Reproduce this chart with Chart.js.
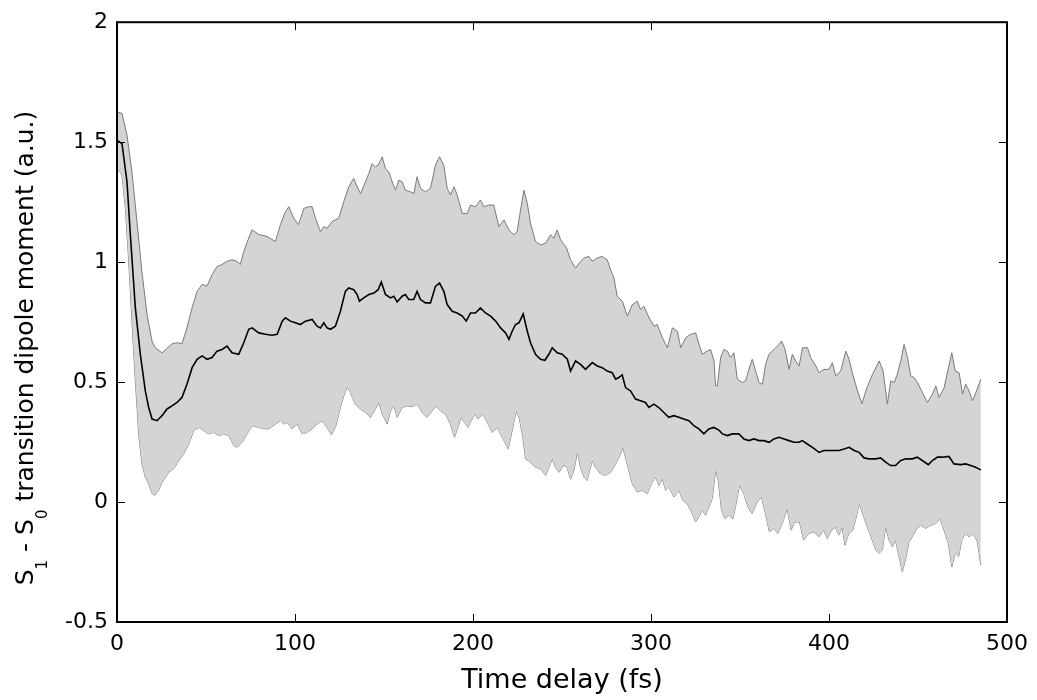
<!DOCTYPE html>
<html>
<head>
<meta charset="utf-8">
<title>S1 - S0 transition dipole moment</title>
<script src="https://cdn.jsdelivr.net/npm/chart.js@4.4.1/dist/chart.umd.min.js"></script>
<style>
  html, body { margin: 0; padding: 0; background: #fff; }
  #wrap { width: 1037px; height: 700px; }
</style>
</head>
<body>
<div id="wrap"><canvas id="chartTDM"></canvas></div>
<script>
// time axis (fs) and values (a.u.)
const meanT = [0, 2.8, 5.6, 7.5, 10.3, 13.1, 15.9, 17.8, 19.7, 22.5, 25.3, 28.1, 30.9, 33.7, 36.5, 39.3, 42.2, 45, 47.8, 50.6, 53.4, 56.2, 59, 61.8, 64.6, 68.4, 71.2, 74, 75.9, 79.6, 83.4, 87.1, 90, 92.8, 94.6, 97.4, 100.2, 103, 105.9, 109.6, 112.4, 114.3, 116.2, 118, 119.9, 122.7, 125.5, 128.3, 130.2, 133, 134.9, 136.2, 138.6, 141.5, 144.3, 146.7, 148.5, 150.8, 153.6, 155.5, 157.4, 160.2, 162, 163.9, 166.7, 168.6, 170.5, 173.3, 176.1, 178.9, 181.2, 183.6, 185.5, 188.3, 191.1, 194, 196.2, 198.6, 201.4, 204.2, 207, 209.9, 212.7, 215.5, 218.3, 220.2, 222, 223.9, 225.8, 228.2, 230.5, 232.3, 235.1, 237.9, 240.4, 242.6, 244.5, 247.3, 250.1, 253, 254.8, 257.6, 260.4, 263.2, 267, 269.8, 272.6, 275.4, 278.2, 280.1, 281.9, 283.8, 285.7, 288.5, 291.3, 294.1, 296.9, 298.8, 301.6, 304.4, 307.2, 310, 312.8, 315.6, 318.4, 321.3, 324.1, 326.9, 329.7, 332.5, 335.3, 338.1, 340.1, 342.9, 345.7, 349.4, 352.2, 355, 357.8, 360.7, 363.5, 366.3, 369.1, 371.9, 374.7, 377.5, 380.3, 383.2, 385, 387.8, 390.7, 394.4, 397.2, 400, 402.8, 405.6, 408.5, 411.3, 414.1, 416.9, 419.7, 422.5, 426.3, 429, 431.8, 434.6, 437.4, 440.3, 443.1, 446.8, 449.6, 452.4, 455.8, 458.1, 460.9, 463.7, 467.4, 470.2, 474, 476.8, 479.6, 482.4, 485.3];
const meanV = [1.508, 1.494, 1.335, 1.114, 0.81, 0.616, 0.463, 0.394, 0.346, 0.339, 0.36, 0.388, 0.401, 0.415, 0.436, 0.491, 0.56, 0.595, 0.609, 0.595, 0.602, 0.629, 0.636, 0.65, 0.622, 0.616, 0.664, 0.72, 0.726, 0.705, 0.699, 0.695, 0.699, 0.754, 0.768, 0.754, 0.747, 0.74, 0.754, 0.761, 0.733, 0.726, 0.747, 0.726, 0.72, 0.733, 0.795, 0.878, 0.892, 0.885, 0.865, 0.837, 0.851, 0.865, 0.871, 0.885, 0.917, 0.865, 0.851, 0.858, 0.834, 0.858, 0.865, 0.844, 0.844, 0.878, 0.844, 0.83, 0.83, 0.899, 0.913, 0.878, 0.823, 0.795, 0.788, 0.775, 0.754, 0.788, 0.788, 0.809, 0.788, 0.775, 0.754, 0.726, 0.705, 0.678, 0.712, 0.74, 0.747, 0.784, 0.712, 0.664, 0.616, 0.595, 0.591, 0.616, 0.643, 0.622, 0.616, 0.595, 0.546, 0.588, 0.574, 0.553, 0.581, 0.567, 0.56, 0.546, 0.539, 0.512, 0.519, 0.53, 0.477, 0.463, 0.429, 0.422, 0.415, 0.394, 0.408, 0.394, 0.373, 0.353, 0.36, 0.353, 0.346, 0.339, 0.318, 0.305, 0.284, 0.305, 0.311, 0.3, 0.284, 0.277, 0.284, 0.284, 0.263, 0.256, 0.263, 0.256, 0.256, 0.249, 0.263, 0.27, 0.263, 0.256, 0.249, 0.249, 0.256, 0.242, 0.228, 0.207, 0.215, 0.215, 0.215, 0.215, 0.221, 0.228, 0.215, 0.207, 0.184, 0.18, 0.18, 0.184, 0.166, 0.152, 0.152, 0.173, 0.18, 0.18, 0.187, 0.173, 0.156, 0.173, 0.187, 0.187, 0.19, 0.159, 0.156, 0.159, 0.152, 0.145, 0.134];

const upperT = [0, 2.8, 5.6, 8.4, 11.2, 14, 16.9, 19.7, 21.5, 25.3, 28, 31, 33.7, 36.5, 39.3, 42.2, 45, 47.8, 50.6, 53.4, 56.2, 59, 61.8, 64.6, 67.5, 69.3, 71.2, 74, 75.9, 79.6, 84.3, 89, 91.8, 94.6, 96.5, 99.3, 102, 105, 107.7, 109.6, 111.5, 114.3, 116.2, 118, 120.9, 124.6, 127.4, 130.2, 133, 134.9, 136.8, 139.6, 141.5, 143.3, 145.2, 146.7, 149, 150.8, 152.7, 154.6, 156.4, 158.3, 160.2, 162, 164.9, 166.8, 168.6, 170.5, 173.3, 176.1, 178.9, 181.2, 183.6, 185.5, 187.4, 189.3, 191.1, 194, 196.7, 198.6, 201.4, 204.2, 206.1, 208.9, 211.7, 214.5, 217.4, 220.2, 223, 224.8, 226.7, 228.6, 230.5, 232.3, 235.1, 237.9, 240.8, 243.6, 245.5, 247.3, 249.2, 252.5, 254.8, 257.6, 260.4, 262.3, 265.1, 267, 269.8, 272.6, 275.4, 277.3, 279.2, 281, 283.9, 286.7, 289.5, 292.3, 294.2, 296, 298.9, 301.7, 303.5, 306.4, 309.2, 312, 314.8, 316.7, 319.5, 322.3, 325.1, 327, 328.8, 331.6, 333.5, 335.4, 336.3, 337.3, 339.1, 341, 342.9, 344.7, 346.6, 348.5, 351.3, 353.2, 355, 356.9, 358.8, 360.7, 362.6, 364.4, 366.3, 369.1, 371.9, 373.4, 375.3, 377.6, 379.4, 381.3, 383.2, 385.1, 387.9, 389.7, 392.6, 394.4, 397.2, 400, 401.9, 403.8, 406.6, 409.4, 411.3, 413.1, 416, 418.5, 421, 424, 428.2, 430.4, 432.8, 434.7, 436.6, 438.4, 440.3, 442.2, 444.1, 445.9, 447.8, 449.7, 452.5, 455.3, 458.1, 460, 461.9, 464.7, 467.1, 469, 470.9, 473.1, 475, 476.8, 478.7, 480.6, 482.5, 485.3];
const upperV = [1.625, 1.62, 1.53, 1.376, 1.17, 0.96, 0.78, 0.67, 0.643, 0.622, 0.64, 0.66, 0.664, 0.66, 0.726, 0.81, 0.878, 0.907, 0.9, 0.948, 0.982, 0.99, 1.003, 1.01, 1.003, 0.99, 1.044, 1.1, 1.135, 1.115, 1.107, 1.086, 1.156, 1.21, 1.231, 1.183, 1.156, 1.224, 1.231, 1.231, 1.183, 1.127, 1.148, 1.141, 1.169, 1.183, 1.252, 1.314, 1.349, 1.314, 1.286, 1.335, 1.37, 1.41, 1.397, 1.404, 1.439, 1.39, 1.376, 1.335, 1.3, 1.342, 1.335, 1.3, 1.293, 1.286, 1.356, 1.307, 1.293, 1.307, 1.404, 1.439, 1.404, 1.307, 1.28, 1.314, 1.28, 1.203, 1.203, 1.238, 1.231, 1.259, 1.231, 1.238, 1.238, 1.148, 1.176, 1.134, 1.114, 1.127, 1.217, 1.3, 1.245, 1.162, 1.086, 1.072, 1.079, 1.114, 1.1, 1.134, 1.093, 1.06, 1.01, 0.975, 1.003, 1.017, 1.024, 1.003, 1.017, 1.024, 1.01, 0.968, 0.934, 0.858, 0.837, 0.775, 0.823, 0.837, 0.802, 0.816, 0.768, 0.733, 0.74, 0.685, 0.643, 0.726, 0.712, 0.643, 0.685, 0.699, 0.705, 0.657, 0.616, 0.629, 0.636, 0.588, 0.484, 0.484, 0.602, 0.636, 0.629, 0.602, 0.622, 0.512, 0.498, 0.505, 0.553, 0.595, 0.546, 0.498, 0.491, 0.574, 0.616, 0.636, 0.657, 0.671, 0.636, 0.553, 0.616, 0.588, 0.567, 0.643, 0.643, 0.602, 0.567, 0.539, 0.553, 0.553, 0.581, 0.526, 0.546, 0.629, 0.595, 0.539, 0.463, 0.41, 0.47, 0.525, 0.588, 0.546, 0.408, 0.505, 0.498, 0.533, 0.588, 0.657, 0.602, 0.526, 0.519, 0.498, 0.456, 0.415, 0.45, 0.484, 0.436, 0.477, 0.56, 0.622, 0.546, 0.539, 0.45, 0.491, 0.463, 0.422, 0.456, 0.512];

const lowerT = [0, 2.8, 4.7, 6.6, 8.4, 10.3, 12.2, 14, 15.9, 17.8, 19.7, 21.2, 23.4, 25.3, 26.8, 29, 31.9, 34.7, 37.5, 40.3, 43.1, 45.9, 48.7, 51.5, 54.4, 57.2, 60, 62.8, 65.6, 67.5, 70.3, 73.1, 75.9, 79.6, 83.4, 85.3, 89, 91.8, 93.7, 95.5, 98.4, 101.2, 104, 106.8, 109.6, 112.4, 115.2, 118, 120.4, 122.7, 125.5, 127.4, 129.3, 131.1, 133.9, 136.7, 139.6, 142.4, 145.2, 147.1, 149, 151.8, 153.6, 155.5, 157.4, 160.2, 163, 165.8, 168.6, 171.4, 174.2, 177, 179.3, 181.7, 184.5, 187.3, 189.6, 191.5, 193.4, 195.2, 197.1, 199, 200.9, 202.7, 205.5, 208, 210.8, 213.6, 216.4, 219.8, 222, 224.3, 226.1, 228, 229.5, 232.3, 235.1, 237.9, 240.8, 242.6, 244.5, 246.4, 248.3, 251.1, 253, 254.8, 256.7, 258.6, 260.4, 262.3, 264.1, 267, 268.8, 271.6, 274.4, 277.3, 280.1, 282.9, 284.2, 286.6, 289.5, 292.3, 295.1, 297.9, 300.7, 302.6, 304.5, 306.4, 308.2, 310.1, 312.9, 315.7, 317.9, 320.4, 323.2, 325, 326.9, 328.8, 330.6, 332.5, 334.4, 336.3, 337.8, 339.6, 341.5, 343.7, 346, 347.8, 349.7, 352.1, 354.5, 356.8, 359.6, 362, 364.3, 366.5, 369, 371.2, 373.7, 376.5, 378.7, 380.8, 383.4, 385.8, 388.6, 391.5, 394.3, 397.1, 399, 401.4, 403.6, 405.5, 407.4, 408.9, 411.1, 413.4, 415.3, 417.1, 419.2, 421.5, 423.6, 426.3, 428.1, 430, 431.8, 433.7, 435.6, 437.4, 439.3, 441.2, 443.1, 444.9, 446.8, 448.7, 451.5, 454.3, 457.1, 459.9, 462.2, 464.6, 467.1, 469, 470.9, 472.8, 474.6, 476.5, 478.7, 481, 483.4, 485.3];
const lowerV = [1.39, 1.363, 1.224, 1.003, 0.754, 0.505, 0.284, 0.159, 0.104, 0.076, 0.035, 0.028, 0.049, 0.083, 0.097, 0.124, 0.139, 0.173, 0.201, 0.242, 0.298, 0.311, 0.298, 0.284, 0.29, 0.277, 0.284, 0.277, 0.235, 0.228, 0.249, 0.284, 0.318, 0.311, 0.305, 0.305, 0.325, 0.339, 0.325, 0.332, 0.305, 0.325, 0.284, 0.29, 0.305, 0.325, 0.339, 0.311, 0.281, 0.311, 0.394, 0.443, 0.48, 0.456, 0.408, 0.388, 0.373, 0.353, 0.388, 0.415, 0.367, 0.325, 0.38, 0.401, 0.353, 0.394, 0.401, 0.397, 0.41, 0.373, 0.353, 0.38, 0.401, 0.38, 0.367, 0.325, 0.27, 0.311, 0.353, 0.332, 0.311, 0.339, 0.367, 0.346, 0.367, 0.332, 0.29, 0.311, 0.27, 0.222, 0.298, 0.38, 0.346, 0.27, 0.18, 0.166, 0.145, 0.139, 0.111, 0.145, 0.18, 0.145, 0.124, 0.155, 0.14, 0.095, 0.132, 0.207, 0.145, 0.104, 0.09, 0.173, 0.145, 0.118, 0.111, 0.124, 0.159, 0.201, 0.228, 0.159, 0.076, 0.042, 0.049, 0.035, 0.083, 0.104, 0.069, 0.097, 0.049, 0.062, 0.021, 0.049, 0.007, -0.007, -0.048, -0.083, -0.062, -0.034, -0.055, -0.021, 0.014, 0.132, 0.09, -0.034, -0.069, -0.055, -0.069, -0.007, 0.069, 0.035, -0.021, -0.048, 0, 0.021, -0.048, -0.124, -0.11, -0.131, -0.09, -0.028, -0.117, -0.083, -0.083, -0.159, -0.131, -0.124, -0.145, -0.117, -0.152, -0.117, -0.104, -0.138, -0.104, -0.18, -0.131, -0.117, -0.062, -0.007, -0.055, -0.104, -0.145, -0.2, -0.214, -0.2, -0.104, -0.159, -0.187, -0.159, -0.228, -0.29, -0.235, -0.166, -0.145, -0.117, -0.097, -0.11, -0.097, -0.09, -0.069, -0.117, -0.173, -0.27, -0.214, -0.228, -0.159, -0.131, -0.145, -0.131, -0.166, -0.263];

const xTicks = [0, 100, 200, 300, 400, 500];
const yTicks = [-0.5, 0, 0.5, 1, 1.5, 2];

const xTitle = "Time delay (fs)";
// y title pieces: [text, isSubscript]
const yTitle = [["S", 0], ["1", 1], [" - S", 0], ["0", 1], [" transition dipole moment (a.u.)", 0]];

const FONT = "'DejaVu Sans', 'Liberation Sans', sans-serif";

const pts = (t, v) => t.map((x, i) => ({ x: x, y: v[i] }));

// box, inward ticks on all four sides, and the y title with subscripts
const frameBox = {
  id: "frameBox",
  afterDraw(chart) {
    const { ctx, chartArea: a } = chart;
    const sx = chart.scales.x, sy = chart.scales.y;
    ctx.save();
    ctx.strokeStyle = "#000";
    ctx.lineWidth = 1;
    ctx.beginPath();
    xTicks.forEach(v => {
      const p = Math.round(sx.getPixelForValue(v)) + 0.5;
      ctx.moveTo(p, a.bottom); ctx.lineTo(p, a.bottom - 8);
      ctx.moveTo(p, a.top); ctx.lineTo(p, a.top + 8);
    });
    yTicks.forEach(v => {
      const p = Math.round(sy.getPixelForValue(v)) + 0.5;
      ctx.moveTo(a.left, p); ctx.lineTo(a.left + 8, p);
      ctx.moveTo(a.right, p); ctx.lineTo(a.right - 8, p);
    });
    ctx.stroke();
    ctx.lineWidth = 2;
    ctx.strokeRect(a.left, a.top, a.right - a.left, a.bottom - a.top);

    // y title
    const big = "25px " + FONT, small = "15px " + FONT;
    let total = 0;
    yTitle.forEach(([s, sub]) => { ctx.font = sub ? small : big; total += ctx.measureText(s).width; });
    ctx.translate(33, 348);
    ctx.rotate(-Math.PI / 2);
    ctx.fillStyle = "#000";
    ctx.textAlign = "left";
    ctx.textBaseline = "alphabetic";
    let pos = -total / 2;
    yTitle.forEach(([s, sub]) => {
      ctx.font = sub ? small : big;
      ctx.fillText(s, pos, sub ? 14 : 0);
      pos += ctx.measureText(s).width;
    });
    ctx.restore();
  }
};

document.addEventListener("DOMContentLoaded", () => {
  new Chart(document.querySelector("#chartTDM"), {
    type: "line",
    data: {
      datasets: [
        {
          label: "mean",
          data: pts(meanT, meanV),
          borderColor: "#000",
          borderWidth: 1.6,
          pointRadius: 0,
          fill: false,
          tension: 0,
          order: 0,
        },
        {
          label: "upper",
          data: pts(upperT, upperV),
          borderColor: "#7a7a7a",
          borderWidth: 1,
          pointRadius: 0,
          backgroundColor: "#d4d4d4",
          fill: { target: 2 },
          tension: 0,
          order: 1,
        },
        {
          label: "lower",
          data: pts(lowerT, lowerV),
          borderColor: "#7a7a7a",
          borderWidth: 1,
          pointRadius: 0,
          fill: false,
          tension: 0,
          order: 1,
        },
      ],
    },
    options: {
      responsive: true,
      maintainAspectRatio: false,
      animation: false,
      events: [],
      layout: { padding: { top: 20, right: 29, left: 0, bottom: 0 } },
      scales: {
        x: {
          type: "linear",
          min: 0,
          max: 500,
          afterFit: (s) => { s.height = 78; },
          afterBuildTicks: (s) => { s.ticks = xTicks.map(v => ({ value: v })); },
          grid: { display: false, drawTicks: false },
          border: { display: false },
          ticks: {
            padding: 9,
            color: "#000",
            font: { family: FONT, size: 22 },
            maxRotation: 0,
            callback: (v) => String(v),
          },
          title: {
            display: true,
            text: xTitle,
            color: "#000",
            font: { family: FONT, size: 27 },
            padding: { top: 0, bottom: 3 },
          },
        },
        y: {
          type: "linear",
          min: -0.5,
          max: 2,
          afterFit: (s) => { s.width = 117; },
          afterBuildTicks: (s) => { s.ticks = yTicks.map(v => ({ value: v })); },
          grid: { display: false, drawTicks: false },
          border: { display: false },
          ticks: {
            padding: 9,
            color: "#000",
            font: { family: FONT, size: 22 },
            callback: (v) => String(v),
          },
        },
      },
      plugins: {
        legend: { display: false },
        tooltip: { enabled: false },
        filler: { propagate: false },
      },
    },
    plugins: [frameBox],
  });
});
</script>
</body>
</html>
